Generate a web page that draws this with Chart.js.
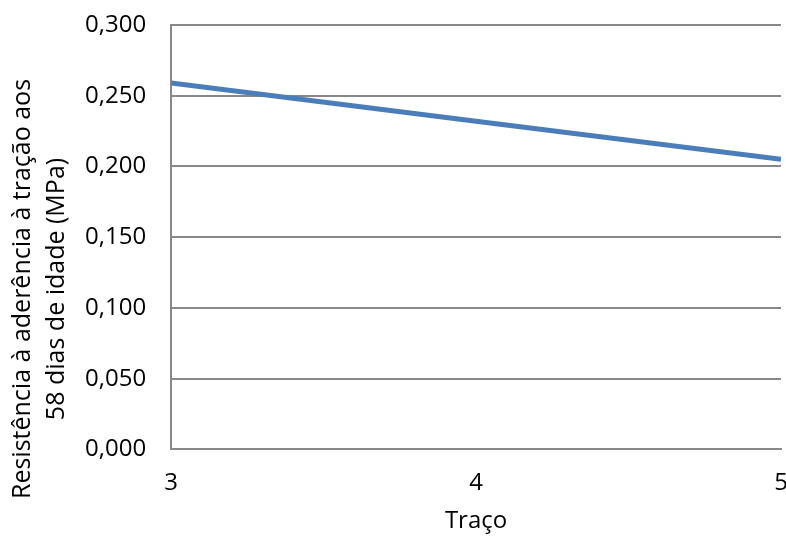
<!DOCTYPE html>
<html>
<head>
<meta charset="utf-8">
<script src="https://cdn.jsdelivr.net/npm/chart.js@4"></script>
<style>
html,body{margin:0;padding:0;background:#fff;}
#wrap{width:786px;height:536px;}
</style>
</head>
<body>
<div id="wrap"><canvas id="c" width="786" height="536"></canvas></div>
<script>
const tracos = [3, 4, 5];
const resistencia = [0.259, 0.232, 0.205];
const yTicks = [0, 0.05, 0.10, 0.15, 0.20, 0.25, 0.30];
const xTitle = 'Traço';
const yTitle = ['Resistência à aderência à tração aos', '58 dias de idade (MPa)'];

const FONT = '"Open Sans", Lato, sans-serif';

const yTitlePlugin = {
  id: 'yTitle',
  afterDraw(chart) {
    const ctx = chart.ctx;
    ctx.save();
    ctx.fillStyle = '#000';
    ctx.font = '25px ' + FONT;
    ctx.textAlign = 'center';
    ctx.textBaseline = 'middle';
    const xs = [23, 57];
    const yc = 289;
    yTitle.forEach((t, i) => {
      ctx.save();
      ctx.translate(xs[i], yc);
      ctx.rotate(-Math.PI / 2);
      ctx.fillText(t, 0, 0);
      ctx.restore();
    });
    ctx.restore();
  }
};

new Chart(document.getElementById('c'), {
  type: 'line',
  data: {
    datasets: [{
      data: tracos.map((x, i) => ({x: x, y: resistencia[i]})),
      borderColor: '#4a7ebb',
      borderWidth: 5,
      pointRadius: 0,
      tension: 0,
      fill: false
    }]
  },
  plugins: [yTitlePlugin],
  options: {
    responsive: false,
    animation: false,
    devicePixelRatio: 1,
    layout: {autoPadding: false, padding: {top: 25, right: 5, left: 60, bottom: 0}},
    plugins: {legend: {display: false}, tooltip: {enabled: false}},
    scales: {
      x: {
        type: 'linear', min: 3, max: 5,
        afterFit: s => { s.paddingLeft = 0; s.paddingRight = 0; },
        grid: {display: false, drawTicks: false},
        border: {display: true, color: '#888888', width: 2},
        ticks: {stepSize: 1, padding: 19, color: '#000', font: {family: FONT, size: 24},
          callback: v => String(v)},
        title: {display: true, text: xTitle, color: '#000', font: {family: FONT, size: 24}, padding: {top: -9, bottom: 0}}
      },
      y: {
        min: 0, max: 0.3,
        afterFit: s => { s.paddingTop = 0; s.paddingBottom = 0; },
        afterBuildTicks: s => { s.ticks = yTicks.map(v => ({value: v})); },
        grid: {color: '#888888', lineWidth: 2, drawTicks: false},
        border: {display: true, color: '#888888', width: 2},
        ticks: {padding: 25, color: '#000', font: {family: FONT, size: 24},
          callback: v => v.toFixed(3).replace('.', ',')},
        title: {display: false}
      }
    }
  }
});
</script>
</body>
</html>
